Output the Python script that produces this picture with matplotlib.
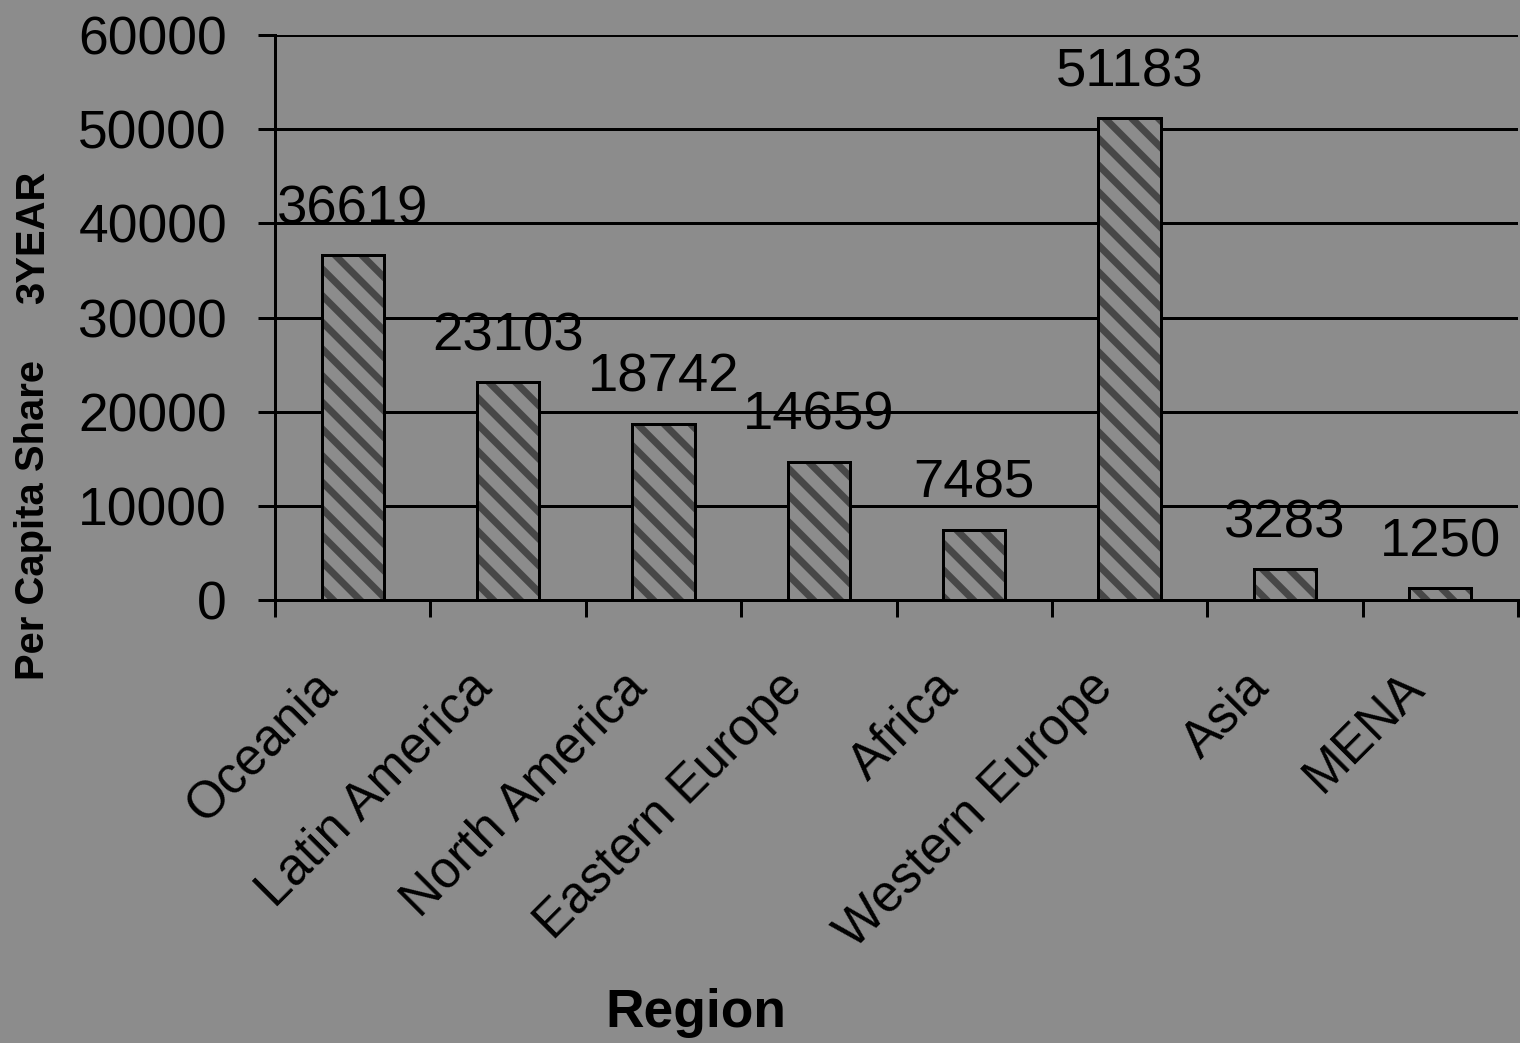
import matplotlib
matplotlib.use("Agg")
import matplotlib.pyplot as plt
from matplotlib.transforms import ScaledTranslation
import numpy as np

# Data
regions = ["Oceania", "Latin America", "North America", "Eastern Europe",
           "Africa", "Western Europe", "Asia", "MENA"]
share = [36619, 23103, 18742, 14659, 7485, 51183, 3283, 1250]
yticks = [0, 10000, 20000, 30000, 40000, 50000, 60000]

DPI = 160
PX = 72.0 / DPI  # points per pixel

BG = "#8c8c8c"
HATCH = "#474747"

plt.rcParams["font.family"] = ["Liberation Sans", "DejaVu Sans"]
plt.rcParams["hatch.linewidth"] = 7 * PX

fig = plt.figure(figsize=(1520 / DPI, 1043 / DPI), dpi=DPI, facecolor=BG)
ax = fig.add_axes([275 / 1520, 1 - 600 / 1043, (1518 - 275) / 1520, (600 - 35) / 1043])
ax.set_facecolor(BG)

x = np.arange(len(regions))
# hatched fill (hatch takes the edge colour), then a black outline on top
ax.bar(x, share, width=0.4, color=BG, edgecolor=HATCH, linewidth=0,
       hatch="\\\\", zorder=3)
bars = ax.bar(x, share, width=0.4, fill=False, edgecolor="black",
              linewidth=3 * PX, zorder=4)

ax.set_xlim(-0.5, len(regions) - 0.5)
ax.set_ylim(0, 60000)

# Gridlines
ax.set_yticks(yticks)
ax.yaxis.grid(True, color="black", linewidth=3 * PX, zorder=1)
ax.set_axisbelow(True)

# Spines
for s in ["top", "right"]:
    ax.spines[s].set_visible(False)
ax.spines["left"].set_linewidth(3 * PX)
ax.spines["bottom"].set_linewidth(3 * PX)
ax.spines["left"].set_zorder(5)
ax.spines["bottom"].set_zorder(5)

ax.tick_params(axis="y", direction="out", length=17 * PX, width=3 * PX,
               pad=31 * PX, labelsize=24)
ax.set_yticklabels([str(v) for v in yticks])

# Category boundary ticks below the axis, labels at centres
ax.set_xticks(x)
ax.set_xticks(np.arange(-0.5, len(regions)), minor=True)
ax.tick_params(axis="x", which="major", length=0, pad=80 * PX)
ax.tick_params(axis="x", which="minor", direction="out", length=17 * PX, width=3 * PX)
ax.set_xticklabels(regions, rotation=45, ha="right", va="center",
                   rotation_mode="anchor", fontsize=23)
shift = ScaledTranslation(-24 / DPI, 0, fig.dpi_scale_trans)
for lab in ax.get_xticklabels():
    lab.set_transform(lab.get_transform() + shift)

# Value labels
for b, v in zip(bars, share):
    ax.annotate(str(v), (b.get_x() + b.get_width() / 2, v),
                xytext=(0, 32 * PX), textcoords="offset points",
                ha="center", va="baseline", fontsize=24.5, zorder=0)

# Axis titles
fig.text(696 / 1520, 1 - 1013 / 1043, "Region", ha="center", va="center",
         fontsize=24, fontweight="bold")
fig.text(33 / 1520, 1 - 520 / 1043, "Per Capita Share", ha="center", va="center",
         rotation=90, fontsize=18, fontweight="bold")
fig.text(33 / 1520, 1 - 237 / 1043, "3YEAR", ha="center", va="center",
         rotation=90, fontsize=18, fontweight="bold")

fig.savefig("out.png", dpi=DPI, facecolor=BG)
